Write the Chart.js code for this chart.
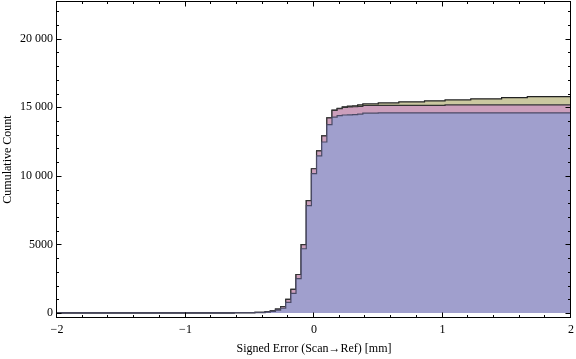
<!DOCTYPE html>
<html>
<head>
<meta charset="utf-8">
<script src="https://cdn.jsdelivr.net/npm/chart.js@4"></script>
<style>
    html, body { margin: 0; padding: 0; background: #fff; }
    #wrap { width: 576px; height: 359px; }
</style>
</head>
<body>
<div id="wrap"><canvas id="grafico"></canvas></div>
<script>
// datos: bordes de los escalones y conteos acumulados por capa
const bordes = [-2, -0.62, -0.46, -0.38, -0.34, -0.30, -0.26, -0.22, -0.18, -0.14, -0.10, -0.06,
    -0.02, 0.02, 0.06, 0.10, 0.14, 0.18, 0.22, 0.26, 0.30, 0.34, 0.38, 0.50,
    0.66, 0.86, 1.02, 1.22, 1.46, 1.66, 1.82, 2];

const capaAzul = [0, 12, 22, 35, 75, 130, 210, 350, 780, 1440, 2510, 4690,
    7830, 10160, 11460, 12470, 13740, 14280, 14400, 14440, 14450, 14470, 14500, 14570,
    14590, 14590, 14590, 14590, 14590, 14590, 14590, 14590];

const capaRosa = [0, 3, 8, 15, 25, 40, 70, 120, 220, 280, 300, 300,
    360, 360, 370, 450, 490, 500, 510, 560, 580, 570, 570, 560,
    550, 550, 550, 590, 590, 590, 590, 590];

const capaOliva = [0, 0, 0, 0, 0, 0, 0, 0, 0, 0, 0, 0,
    0, 0, 0, 0, 0, 10, 20, 30, 50, 70, 100, 120,
    180, 260, 330, 360, 440, 530, 600, 600];

const ticksX = [-2, -1, 0, 1, 2];
const ticksY = [0, 5000, 10000, 15000, 20000];

const FUENTE = "'Liberation Serif', 'DejaVu Serif', serif";

function puntos(valores) {
    return bordes.map((x, i) => ({ x: x, y: valores[i] }));
}

function serie(valores, fondo, borde, relleno) {
    return {
        data: puntos(valores),
        stepped: "after",
        backgroundColor: fondo,
        borderColor: borde,
        borderWidth: 1.2,
        pointRadius: 0,
        fill: relleno
    };
}

function sinRelleno(s) {
    s.paddingTop = 0;
    s.paddingBottom = 0;
    s.paddingLeft = 0;
    s.paddingRight = 0;
}

// marco con marcas hacia adentro en los cuatro lados (estilo Mathematica)
const marco = {
    id: "marco",
    afterDatasetsDraw(chart) {
        const { ctx, chartArea: a, scales } = chart;
        const sx = scales.x, sy = scales.y;
        ctx.save();
        ctx.strokeStyle = "#000";
        ctx.lineWidth = 1;
        const l = Math.round(a.left) - 0.5, r = Math.round(a.right) - 0.5;
        const t = Math.round(a.top) + 0.5, b = Math.round(a.bottom) - 0.5;
        ctx.strokeRect(l, t, r - l, b - t);

        ctx.beginPath();
        for (let i = 0; i <= 20; i++) {
            const v = -2 + i * 0.2;
            const px = Math.round(sx.getPixelForValue(v)) - 0.5;
            const largo = i % 5 === 0 ? 5 : 2.5;
            ctx.moveTo(px, b); ctx.lineTo(px, b - largo);
            ctx.moveTo(px, t); ctx.lineTo(px, t + largo);
        }
        for (let v = 0; v <= 22000; v += 1000) {
            const py = Math.round(sy.getPixelForValue(v)) + 0.5;
            const largo = v % 5000 === 0 ? 5 : 2.5;
            ctx.moveTo(l, py); ctx.lineTo(l + largo, py);
            ctx.moveTo(r, py); ctx.lineTo(r - largo, py);
        }
        ctx.stroke();
        ctx.restore();
    }
};

new Chart(document.getElementById("grafico"), {
    type: "line",
    data: {
        datasets: [
            serie(capaAzul, "#a09fcd", "#4a4a66", "origin"),
            serie(capaRosa, "#cc9fbc", "#333333", "-1"),
            serie(capaOliva, "#cbc8a0", "#222222", "-1")
        ]
    },
    options: {
        responsive: true,
        maintainAspectRatio: false,
        animation: false,
        layout: { autoPadding: false, padding: { top: 1, right: 5, left: 0, bottom: 0 } },
        plugins: {
            legend: { display: false },
            tooltip: { enabled: false }
        },
        scales: {
            x: {
                type: "linear",
                min: -2,
                max: 2,
                grid: { display: false, drawTicks: false },
                border: { display: false },
                afterBuildTicks: s => { s.ticks = ticksX.map(v => ({ value: v })); },
                afterFit: s => { s.height = 41; sinRelleno(s); },
                ticks: {
                    padding: 5,
                    maxRotation: 0,
                    color: "#000",
                    font: { family: FUENTE, size: 12 },
                    callback: v => (v < 0 ? "\u2212" + Math.abs(v) : String(v))
                },
                title: {
                    display: true,
                    text: "Signed Error (Scan\u2192Ref) [mm]",
                    color: "#000",
                    font: { family: FUENTE, size: 12 },
                    padding: { top: 0, bottom: 3 }
                }
            },
            y: {
                stacked: true,
                min: -360,
                max: 22750,
                grid: { display: false, drawTicks: false },
                border: { display: false },
                afterBuildTicks: s => { s.ticks = ticksY.map(v => ({ value: v })); },
                afterFit: s => { s.width = 57; sinRelleno(s); },
                ticks: {
                    padding: 4,
                    color: "#000",
                    font: { family: FUENTE, size: 12 },
                    callback: v => (v >= 10000 ? String(v).replace(/(\d{3})$/, " $1") : String(v))
                },
                title: {
                    display: true,
                    text: "Cumulative Count",
                    color: "#000",
                    font: { family: FUENTE, size: 12 },
                    padding: { top: 1, bottom: 0 }
                }
            }
        }
    },
    plugins: [marco]
});
</script>
</body>
</html>
